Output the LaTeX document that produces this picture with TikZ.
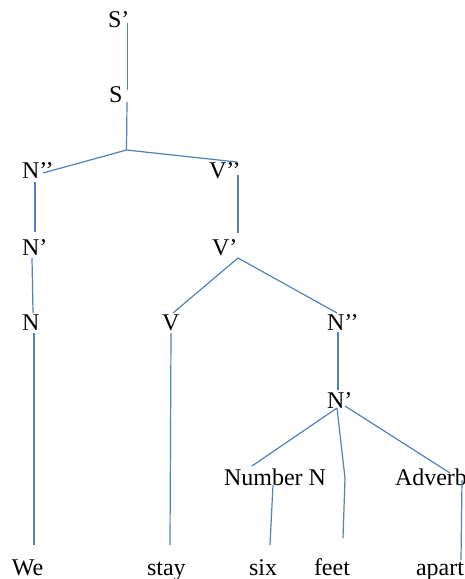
\documentclass[tikz,border=0pt]{standalone}
\usepackage{fontspec}
\setmainfont{Liberation Serif}
\usetikzlibrary{calc}
\definecolor{lc}{HTML}{5081B8}
\begin{document}
\begin{tikzpicture}[x=1pt,y=-1pt,
  lbl/.style={inner sep=0pt, outer sep=0pt, anchor=base west, font=\fontsize{24}{28}\selectfont},
  edge/.style={draw=lc, line width=1.2pt}]
\useasboundingbox (0,0) rectangle (465,579);
\clip (0,0) rectangle (465,579);
% labels
\node[lbl] (Sp)   at (108,27)  {S’};
\node[lbl] (S)    at (109,102) {S};
\node[lbl] (Npp1) at (22,178)  {N’’};
\node[lbl] (Vpp)  at (209,178) {V’’};
\node[lbl] (Np1)  at (22,255)  {N’};
\node[lbl] (Vp)   at (212,255) {V’};
\node[lbl] (N1)   at (22,330)  {N};
\node[lbl] (V)    at (162,330) {V};
\node[lbl] (Npp2) at (327,330) {N’’};
\node[lbl] (Np2)  at (327,408) {N’};
\node[lbl] (Num)  at (224,485) {Number N};
\node[lbl] (Adv)  at (395,485) {Adverb};
\node[lbl] (We)   at (12,575)  {We};
\node[lbl] (stay) at (147,575) {stay};
\node[lbl] (six)  at (249,575) {six};
\node[lbl] (feet) at (314,575) {feet};
\node[lbl] (apart) at (416,575) {apart};
% branch points
\coordinate (b1) at (126.5,150);
\coordinate (b2) at (238,258);
\coordinate (b3) at (337,408);
\coordinate (kink) at (345,478);
% connectors
\draw[edge] ($(Sp.base west)+(19.5,-4)$) -- ($(S.base west)+(18.5,-12)$);
\draw[edge] ($(S.base west)+(18,0)$) -- (b1);
\draw[edge] (b1) -- ($(Npp1.base west)+(21,-5)$);
\draw[edge] (b1) -- ($(Vpp.base west)+(28,-16)$);
\draw[edge] ($(Npp1.base west)+(13,4)$) -- ($(Np1.base west)+(13,-23)$);
\draw[edge] ($(Np1.base west)+(10,3)$) -- ($(N1.base west)+(11,-17)$);
\draw[edge] ($(N1.base west)+(12,3)$) -- ($(We.base west)+(22,-30)$);
\draw[edge] ($(Vpp.base west)+(29,-3)$) -- ($(Vp.base west)+(26,-22)$);
\draw[edge] (b2) -- ($(V.base west)+(11,-17)$);
\draw[edge] (b2) -- ($(Npp2.base west)+(10,-17)$);
\draw[edge] ($(V.base west)+(9,3)$) -- ($(stay.base west)+(23,-30)$);
\draw[edge] ($(Npp2.base west)+(11,2)$) -- ($(Np2.base west)+(11,-18)$);
\draw[edge] (b3) -- ($(Num.base west)+(28,-19)$);
\draw[edge] (b3) -- (kink) -- ($(feet.base west)+(29,-37)$);
\draw[edge] ($(Np2.base west)+(18,-2)$) -- ($(Adv.base west)+(55,-12)$);
\draw[edge] ($(Num.base west)+(49,0)$) -- ($(six.base west)+(21,-30)$);
\draw[edge] ($(Adv.base west)+(67,-5)$) -- ($(apart.base west)+(45,-15)$);
\end{tikzpicture}
\end{document}
